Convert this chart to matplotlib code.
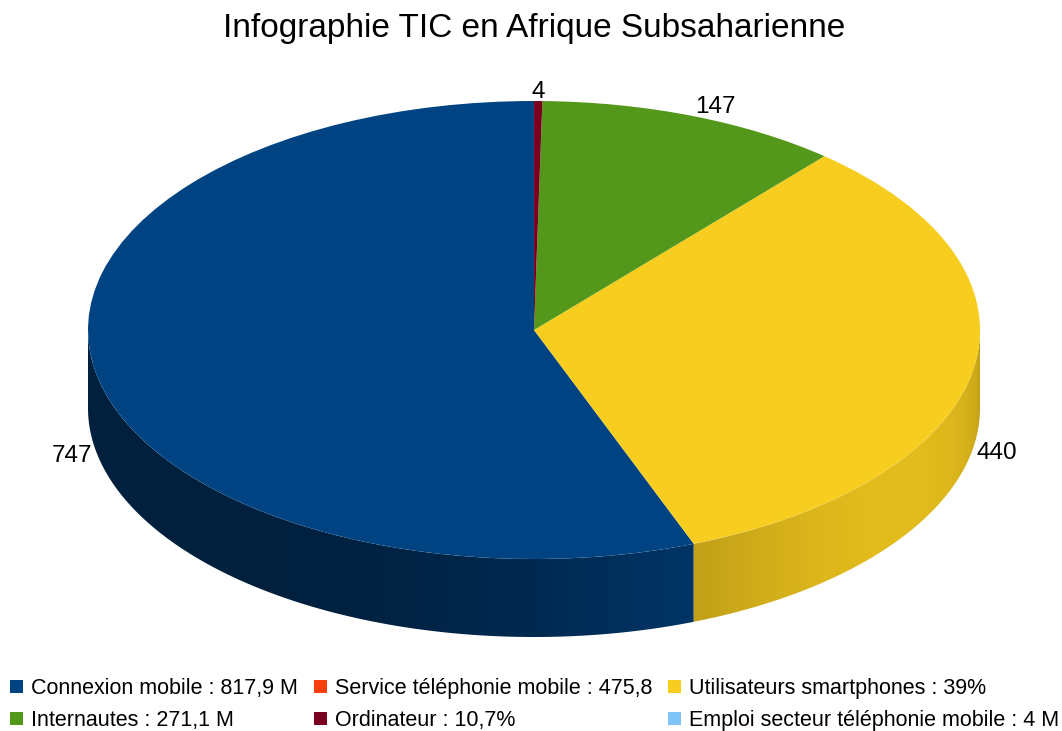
import numpy as np
import matplotlib
matplotlib.use("Agg")
import matplotlib.pyplot as plt
from matplotlib.patches import Polygon
from matplotlib.colors import to_rgb

plt.rcParams["font.family"] = ["Liberation Sans", "DejaVu Sans"]

categories = [
    "Connexion mobile : 817,9 M",
    "Service téléphonie mobile : 475,8",
    "Utilisateurs smartphones : 39%",
    "Internautes : 271,1 M",
    "Ordinateur : 10,7%",
    "Emploi secteur téléphonie mobile : 4 M",
]
values = [747, 0, 440, 147, 4, 0]
colors = ["#004586", "#ff420e", "#ffd320", "#579d1c", "#7e0021", "#83caff"]
title = "Infographie TIC en Afrique Subsaharienne"

W, H = 1062, 731
squash = 229 / 446  # vertical / horizontal radius of the tilted pie
radius = 446
cx, cy = 534, (H - 330) / squash
depth = 78 / squash


def shade(t):
    # side wall brightness, lit from the front right
    return 0.47 + 0.42 * np.maximum(0.0, np.cos(np.radians(t - 325))) ** 2


def main() -> None:
    fig = plt.figure(figsize=(W / 100, H / 100), dpi=100)
    ax = fig.add_axes([0, 0, 1, 1])

    top_colors = [tuple(np.array(to_rgb(c)) * 0.97) for c in colors]
    wedges, _ = ax.pie(
        values,
        colors=top_colors,
        startangle=90,
        counterclock=True,
        center=(cx, cy),
        radius=radius,
        wedgeprops=dict(linewidth=0, zorder=2),
    )

    # side walls of the front half, shaded with a horizontal gradient
    xs = np.linspace(cx - radius, cx + radius, 800)
    t_of_x = 360 - np.degrees(np.arccos(np.clip((xs - cx) / radius, -1, 1)))
    for w, col in zip(wedges, colors):
        if w.theta2 - w.theta1 <= 0:
            continue
        ts = np.linspace(w.theta1, w.theta2, 600)
        ts = ts[np.sin(np.radians(ts)) <= 0]
        if len(ts) < 2:
            continue
        top = [(cx + radius * np.cos(np.radians(t)), cy + radius * np.sin(np.radians(t))) for t in ts]
        bottom = [(x, y - depth) for x, y in top[::-1]]
        poly = Polygon(top + bottom, closed=True, facecolor="none", edgecolor="none")
        ax.add_patch(poly)
        base = np.array(to_rgb(col))
        img = np.clip(base[None, None, :] * shade(t_of_x)[None, :, None], 0, 1)
        im = ax.imshow(
            img,
            extent=(cx - radius, cx + radius, cy - radius - depth, cy),
            aspect="auto",
            interpolation="bilinear",
            zorder=1,
        )
        im.set_clip_path(poly)

    # value labels
    for w, v in zip(wedges, values):
        if v <= 0:
            continue
        mid = np.radians((w.theta1 + w.theta2) / 2)
        c, s = np.cos(mid), np.sin(mid)
        ha = "center" if abs(c) < 0.1 else ("left" if c > 0 else "right")
        if s < 0:
            x = cx + radius * 1.007 * c
            y = cy + radius * s - depth - 6 / squash
            va = "center"
        else:
            x = cx + radius * 1.016 * c
            y = cy + radius * 1.012 * s
            va = "baseline"
        ax.text(x, y, str(v), ha=ha, va=va, fontsize=17.5, color="black")

    ax.set_aspect("auto")
    ax.set_xlim(0, W)
    ax.set_ylim(0, H / squash)
    ax.axis("off")

    fig.text(534 / W, 1 - 28 / H, title, ha="center", va="center", fontsize=24)

    order = [0, 3, 1, 4, 2, 5]
    fig.legend(
        [wedges[i] for i in order],
        [categories[i] for i in order],
        loc="upper left",
        bbox_to_anchor=(10 / W, 1 - 678 / H),
        ncol=3,
        frameon=False,
        fontsize=15.5,
        handlelength=0.6,
        handleheight=0.56,
        handletextpad=0.37,
        columnspacing=0.75,
        labelspacing=0.5,
        borderaxespad=0.0,
        borderpad=0.0,
    )

    fig.savefig("out.png", dpi=100)


if __name__ == "__main__":
    main()
